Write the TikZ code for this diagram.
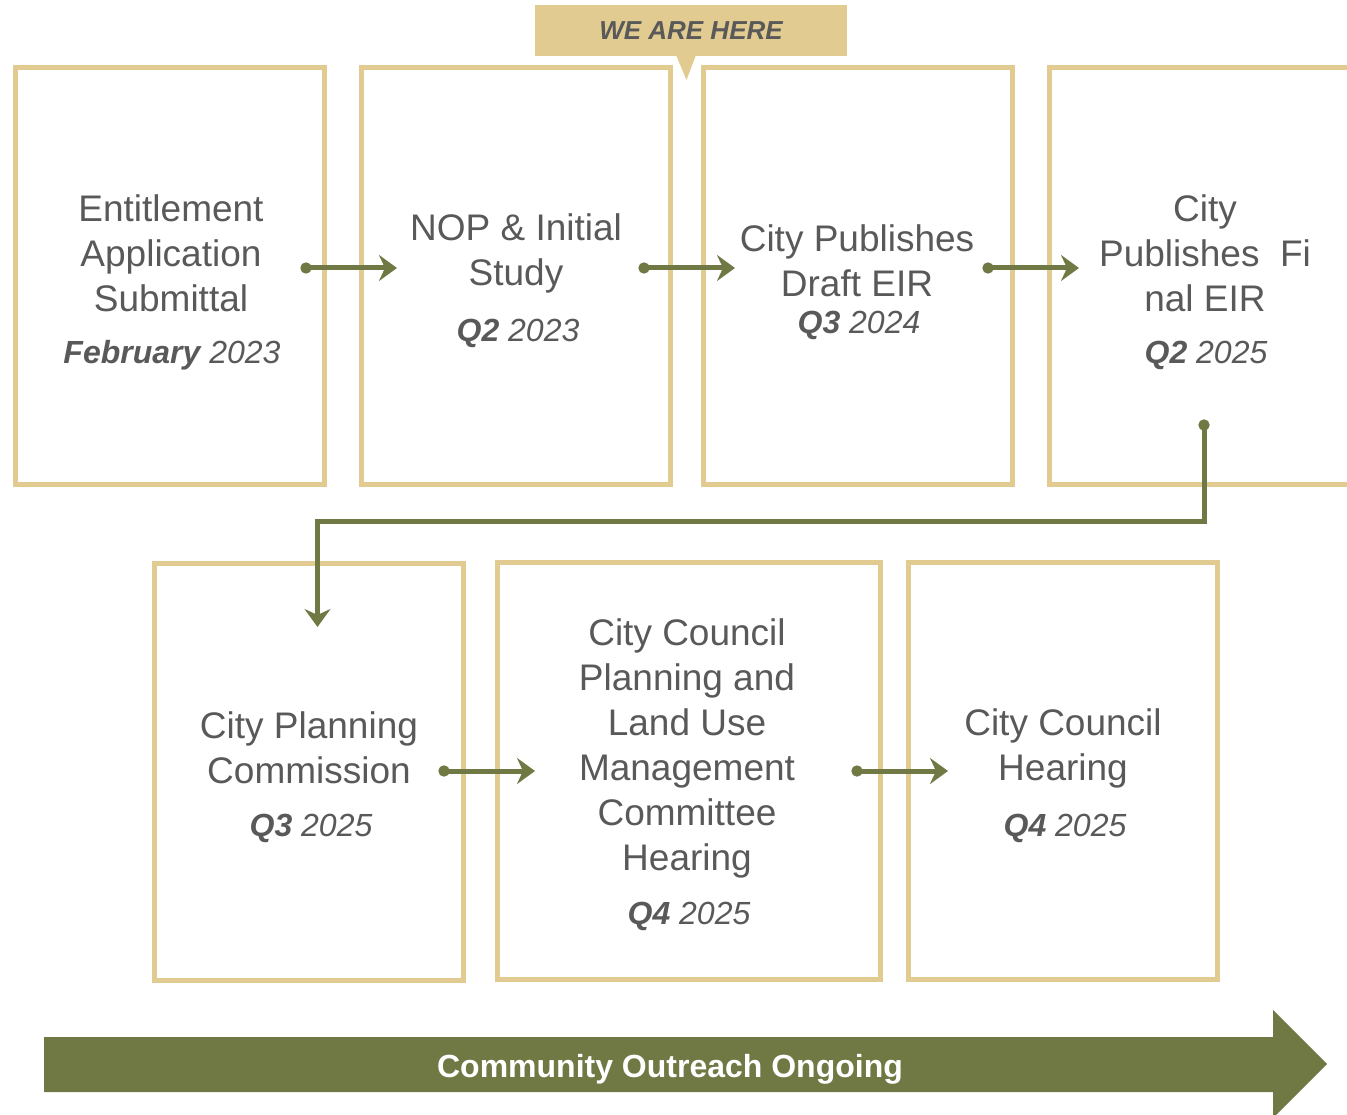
\documentclass[tikz,border=0pt]{standalone}
\usepackage{fontspec}
\setmainfont{Liberation Sans}
\usetikzlibrary{arrows.meta}
\definecolor{tan}{RGB}{226,203,144}
\definecolor{olive}{RGB}{112,120,68}
\definecolor{txt}{RGB}{89,89,89}
\begin{document}
\begin{tikzpicture}[x=1pt,y=-1pt,
  box/.style={draw=tan,line width=5pt,minimum width=309pt,minimum height=417pt,inner sep=0pt,outer sep=0pt},
  title/.style={text=txt,align=center,font=\fontsize{37}{45}\selectfont,inner sep=0pt},
  date/.style={text=txt,font=\fontsize{32}{38}\selectfont\itshape,inner sep=0pt},
  conn/.style={draw=olive,line width=5pt,{Circle[length=11pt]}-{Stealth[length=18pt,width=26pt,inset=6pt]}}]
\useasboundingbox (0,0) rectangle (1347,1115);
% boxes
\node[box] (b1) at (170,276) {};
\node[box] (b2) at (515.5,276) {};
\node[box] (b3) at (857.5,276) {};
\node[box] (b4) at (1204,276) {};
\node[box] (b5) at (308.5,772) {};
\node[box,minimum width=383pt] (b6) at (689,771) {};
\node[box] (b7) at (1062.5,770.5) {};
% callout
\node[fill=tan,minimum width=312pt,minimum height=51pt,inner sep=0pt,text=txt,font=\fontsize{26}{30}\selectfont\bfseries\itshape] (here) at (691,30.5) {\raisebox{-1.5pt}{WE ARE HERE}};
\fill[tan] (676,55) -- (696,55) -- (686.5,80) -- cycle;
% titles
\node[title] (t1) at (171,253) {Entitlement\\Application\\Submittal};
\node[date] (d1) at (172,355) {\bfseries February\mdseries{} 2023};
\node[title] (t2) at (516,253) {NOP \& Initial\\Study};
\node[date] (d2) at (518,333) {\bfseries Q2\mdseries{} 2023};
\node[title] (t3) at (857,261) {City Publishes\\Draft EIR};
\node[date] (d3) at (859,325) {\bfseries Q3\mdseries{} 2024};
\node[title] (t4) at (1205,253) {City\\Publishes~ Fi\\nal EIR};
\node[date] (d4) at (1206,355) {\bfseries Q2\mdseries{} 2025};
\node[title] (t5) at (309,748) {City Planning\\Commission};
\node[date] (d5) at (311,828) {\bfseries Q3\mdseries{} 2025};
\node[title] (t6) at (687,748) {City Council\\Planning and\\Land Use\\Management\\Committee\\Hearing};
\node[date] (d6) at (689,916) {\bfseries Q4\mdseries{} 2025};
\node[title] (t7) at (1063,748) {City Council\\Hearing};
\node[date] (d7) at (1065,828) {\bfseries Q4\mdseries{} 2025};
% connectors
\draw[conn] ([xshift=-24pt,yshift=8pt]b1.east) -- ([xshift=36pt,yshift=8pt]b2.west);
\draw[conn] ([xshift=-31.5pt,yshift=8pt]b2.east) -- ([xshift=32pt,yshift=8pt]b3.west);
\draw[conn] ([xshift=-29.5pt,yshift=8pt]b3.east) -- ([xshift=29.5pt,yshift=8pt]b4.west);
\draw[conn] ([xshift=-24.5pt,yshift=1pt]b5.east) -- ([xshift=37.5pt]b6.west);
\draw[conn] ([xshift=-29pt]b6.east) -- ([xshift=40pt,yshift=-0.5pt]b7.west);
\coordinate (e0) at ([yshift=65pt]b4.south);
\coordinate (e1) at ([xshift=9pt,yshift=-63.5pt]b5.north);
\draw[conn] (e0) -- (e0 |- 0,521) -| (e1);
% outreach arrow
\fill[olive] (44,1037) -- (1273,1037) -- (1273,1010) -- (1327,1064) -- (1273,1118) -- (1273,1092) -- (44,1092) -- cycle;
\node[text=white,font=\fontsize{32}{38}\selectfont\bfseries,inner sep=0pt] (out) at (670,1069) {Community Outreach Ongoing};
\end{tikzpicture}
\end{document}
